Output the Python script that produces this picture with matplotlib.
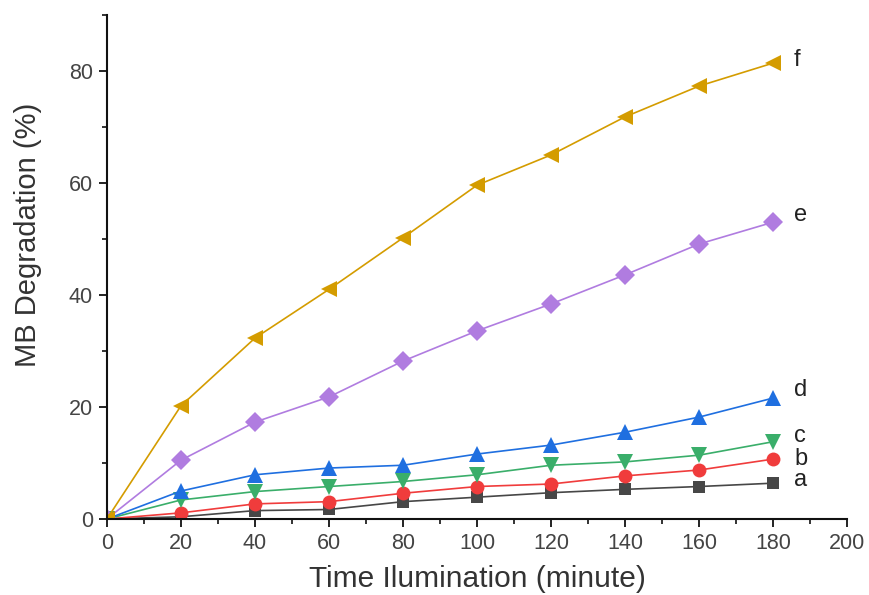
import matplotlib
matplotlib.use("Agg")
import matplotlib.pyplot as plt
from matplotlib.ticker import MultipleLocator

plt.rcParams['font.family'] = ['Liberation Sans', 'DejaVu Sans']

time = [0, 20, 40, 60, 80, 100, 120, 140, 160, 180]
a = [0, 0.4, 1.5, 1.7, 3.1, 3.9, 4.7, 5.3, 5.8, 6.4]
b = [0, 1.1, 2.7, 3.1, 4.6, 5.8, 6.25, 7.7, 8.75, 10.7]
c = [0, 3.4, 4.9, 5.8, 6.7, 7.9, 9.6, 10.2, 11.4, 13.8]
d = [0, 5.0, 7.9, 9.1, 9.6, 11.6, 13.2, 15.5, 18.2, 21.6]
e = [0, 10.5, 17.3, 21.8, 28.2, 33.6, 38.4, 43.6, 49.1, 53.0]
f = [0, 20.2, 32.3, 41.0, 50.2, 59.6, 65.0, 71.8, 77.3, 81.4]

labels = ['a', 'b', 'c', 'd', 'e', 'f']
series = [a, b, c, d, e, f]
colors = ['#474747', '#f03c3c', '#3aae6a', '#1f6fe0', '#b07ce0', '#d49c00']
markers = ['s', 'o', 'v', '^', 'D', '<']
msizes = [9, 10, 11, 11, 10, 11]
# vertical nudge of end labels, in points
label_dy = [2, 0, 4, 6, 5, 2]

fig = plt.figure(figsize=(8.69, 5.95), dpi=100)
ax = fig.add_axes([0.123, 0.1277, 0.852, 0.8473])

for lab, ys, col, mk, ms, dy in zip(labels, series, colors, markers, msizes, label_dy):
    ax.plot(time, ys, color=col, marker=mk, markersize=ms, linewidth=1.2,
            markeredgewidth=0)
    ax.annotate(lab, xy=(time[-1], ys[-1]), xytext=(15, dy),
                textcoords='offset points', fontsize=17, color='#222222',
                va='center', ha='left')

ax.set_xlim(0, 200)
ax.set_ylim(0, 90)
ax.xaxis.set_major_locator(MultipleLocator(20))
ax.xaxis.set_minor_locator(MultipleLocator(10))
ax.yaxis.set_major_locator(MultipleLocator(20))
ax.yaxis.set_minor_locator(MultipleLocator(10))

for s in ['top', 'right']:
    ax.spines[s].set_visible(False)
for s in ['left', 'bottom']:
    ax.spines[s].set_linewidth(1.5)
    ax.spines[s].set_color('#111111')

ax.tick_params(which='major', direction='out', length=6, width=1.3,
               labelsize=15.5, labelcolor='#444444', color='#111111', pad=4)
ax.tick_params(which='minor', direction='out', length=3.5, width=1.2, color='#111111')

ax.set_xlabel('Time Ilumination (minute)', fontsize=21.5, color='#333333', labelpad=8)
ax.set_ylabel('MB Degradation (%)', fontsize=21, color='#333333')
ax.yaxis.set_label_coords(-0.088, 0.563)

fig.savefig('out.png', dpi=100)
